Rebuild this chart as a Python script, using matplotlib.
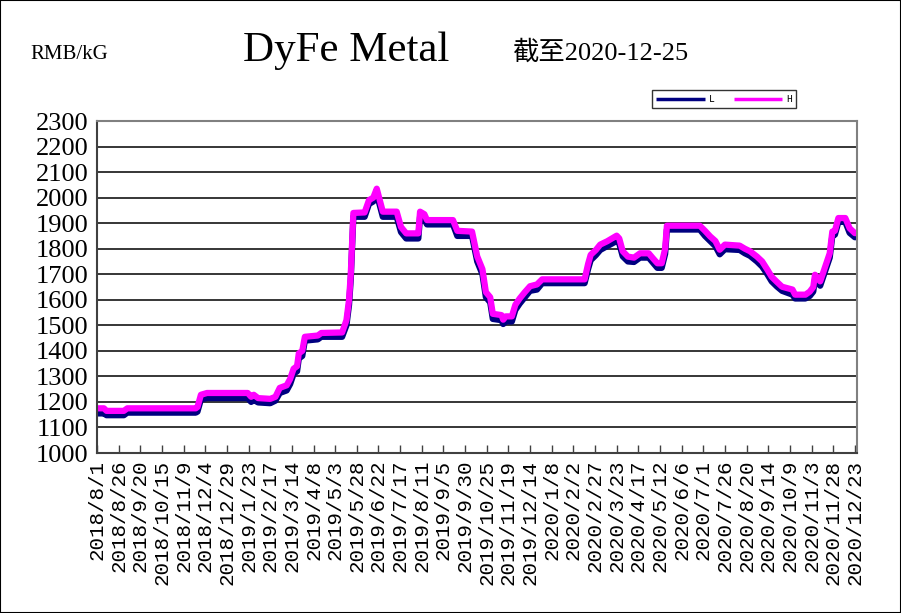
import matplotlib
matplotlib.use('Agg')
import matplotlib.pyplot as plt
import pandas as pd
from matplotlib.patches import Rectangle

# price change points (RMB/kG)
dates = ['2018-08-01', '2018-08-09', '2018-08-12', '2018-09-01', '2018-09-05', '2018-11-23',
         '2018-11-25', '2018-11-29', '2018-12-06', '2019-01-22', '2019-01-26', '2019-01-29',
         '2019-02-03', '2019-02-17', '2019-02-23', '2019-02-28', '2019-03-08', '2019-03-12',
         '2019-03-16', '2019-03-20', '2019-03-22', '2019-03-26', '2019-03-29', '2019-04-13',
         '2019-04-17', '2019-05-11', '2019-05-16', '2019-05-19', '2019-05-21', '2019-05-24',
         '2019-06-06', '2019-06-11', '2019-06-16', '2019-06-20', '2019-06-27', '2019-07-13',
         '2019-07-18', '2019-07-24', '2019-08-07', '2019-08-09', '2019-08-14', '2019-08-17',
         '2019-09-16', '2019-09-21', '2019-10-08', '2019-10-14', '2019-10-20', '2019-10-24',
         '2019-10-29', '2019-11-01', '2019-11-11', '2019-11-13', '2019-11-16', '2019-11-23',
         '2019-11-27', '2019-12-02', '2019-12-08', '2019-12-14', '2019-12-22', '2019-12-28',
         '2020-02-15', '2020-02-19', '2020-02-22', '2020-02-28', '2020-03-04', '2020-03-12',
         '2020-03-23', '2020-03-26', '2020-03-30', '2020-04-05', '2020-04-12', '2020-04-19',
         '2020-04-29', '2020-05-04', '2020-05-09', '2020-05-14', '2020-05-18', '2020-05-20',
         '2020-06-27', '2020-07-03', '2020-07-09', '2020-07-15', '2020-07-20', '2020-07-26',
         '2020-08-12', '2020-08-18', '2020-08-24', '2020-09-01', '2020-09-07', '2020-09-13',
         '2020-09-18', '2020-09-24', '2020-09-30', '2020-10-12', '2020-10-15', '2020-10-27',
         '2020-11-01', '2020-11-05', '2020-11-07', '2020-11-13', '2020-11-19', '2020-11-24',
         '2020-11-27', '2020-11-30', '2020-12-04', '2020-12-12', '2020-12-17', '2020-12-23',
         '2020-12-25']

price_h = [1175, 1175, 1165, 1165, 1175, 1175,
           1180, 1228, 1235, 1235, 1220, 1228,
           1215, 1212, 1220, 1255, 1265, 1290,
           1330, 1340, 1390, 1400, 1455, 1460,
           1470, 1472, 1520, 1600, 1700, 1940,
           1942, 1990, 2000, 2035, 1945, 1945,
           1885, 1860, 1860, 1945, 1935, 1912,
           1912, 1870, 1867, 1770, 1720, 1630,
           1610, 1545, 1540, 1522, 1535, 1535,
           1580, 1605, 1630, 1653, 1660, 1680,
           1680, 1740, 1776, 1795, 1816, 1829,
           1851, 1840, 1790, 1769, 1765, 1782,
           1782, 1762, 1743, 1743, 1800, 1890,
           1890, 1870, 1848, 1830, 1796, 1816,
           1812, 1800, 1790, 1769, 1750, 1718,
           1690, 1670, 1651, 1640, 1620, 1620,
           1632, 1650, 1698, 1672, 1732, 1782,
           1867, 1870, 1920, 1920, 1880, 1861,
           1861]

price_l = [1155, 1155, 1148, 1148, 1158, 1158,
           1162, 1210, 1215, 1215, 1200, 1208,
           1198, 1195, 1205, 1235, 1245, 1270,
           1310, 1320, 1370, 1380, 1440, 1445,
           1455, 1455, 1500, 1580, 1680, 1925,
           1925, 1975, 1985, 2015, 1925, 1925,
           1865, 1840, 1840, 1925, 1915, 1895,
           1895, 1850, 1850, 1750, 1700, 1610,
           1590, 1525, 1520, 1505, 1515, 1515,
           1560, 1585, 1610, 1635, 1640, 1665,
           1665, 1720, 1755, 1775, 1795, 1810,
           1830, 1820, 1770, 1750, 1748, 1765,
           1765, 1745, 1725, 1725, 1780, 1875,
           1875, 1850, 1830, 1810, 1778, 1798,
           1795, 1782, 1772, 1750, 1730, 1700,
           1672, 1652, 1635, 1620, 1605, 1605,
           1615, 1632, 1680, 1655, 1715, 1765,
           1850, 1855, 1905, 1905, 1862, 1845,
           1845]

tick_labels = ['2018/8/1', '2018/8/26', '2018/9/20', '2018/10/15', '2018/11/9', '2018/12/4',
               '2018/12/29', '2019/1/23', '2019/2/17', '2019/3/14', '2019/4/8', '2019/5/3',
               '2019/5/28', '2019/6/22', '2019/7/17', '2019/8/11', '2019/9/5', '2019/9/30',
               '2019/10/25', '2019/11/19', '2019/12/14', '2020/1/8', '2020/2/2', '2020/2/27',
               '2020/3/23', '2020/4/17', '2020/5/12', '2020/6/6', '2020/7/1', '2020/7/26',
               '2020/8/20', '2020/9/14', '2020/10/9', '2020/11/3', '2020/11/28', '2020/12/23']

serif = ['Liberation Serif', 'DejaVu Serif']
mono = ['Liberation Mono', 'DejaVu Sans Mono']
cjk = ['Liberation Serif', 'Noto Sans CJK SC']

x = pd.to_datetime(dates)
ticks = pd.to_datetime(tick_labels, format='%Y/%m/%d')

fig = plt.figure(figsize=(9.01, 6.13), dpi=100)
ax = fig.add_axes([97 / 901, 1 - 453 / 613, (857 - 97) / 901, (453 - 121) / 613])

ax.plot(x, price_l, color='#000080', lw=4.5, label='L', solid_joinstyle='round', solid_capstyle='butt')
ax.plot(x, price_h, color='#FF00FF', lw=4.5, label='H', solid_joinstyle='round', solid_capstyle='butt')

ax.set_ylim(1000, 2300)
ax.set_yticks(range(1000, 2301, 100))
ax.set_xlim(pd.Timestamp('2018-08-01'), pd.Timestamp('2020-12-25 12:00'))
ax.set_xticks(ticks)
ax.set_xticklabels(tick_labels, rotation=90, family=mono, fontsize=15)
for lab in ax.get_yticklabels():
    lab.set_family(serif)
    lab.set_fontsize(19)

ax.grid(axis='y', color='black', lw=1.1)
ax.set_axisbelow(True)
ax.tick_params(axis='x', direction='in', length=6, width=1, color='#404040', pad=5)
ax.tick_params(axis='y', direction='in', length=0, pad=6)
for side in ['top', 'right']:
    ax.spines[side].set_color('#808080')
    ax.spines[side].set_linewidth(1.5)
for side in ['left', 'bottom']:
    ax.spines[side].set_color('#404040')
    ax.spines[side].set_linewidth(1.5)

leg = ax.legend(loc='center', bbox_to_anchor=(724 / 901, 1 - 99 / 613), bbox_transform=fig.transFigure,
                ncol=2, frameon=True, fancybox=False, handlelength=5, handletextpad=0.4,
                columnspacing=2.0, borderpad=0.4, prop={'family': 'Liberation Mono', 'size': 7})
leg.get_frame().set_edgecolor('black')
leg.get_frame().set_linewidth(1.0)
for line in leg.get_lines():
    line.set_linewidth(2.5)

fig.text(30 / 901, 1 - 59 / 613, 'RMB/kG', family=serif, fontsize=15, ha='left', va='baseline')
fig.text(243 / 901, 1 - 61 / 613, 'DyFe Metal', family=serif, fontsize=31, ha='left', va='baseline')
fig.text(512 / 901, 1 - 60 / 613, '截至2020-12-25', family=cjk, fontsize=19, ha='left', va='baseline')

fig.patches.append(Rectangle((0, 0), 1, 1, transform=fig.transFigure, fill=False,
                             edgecolor='black', lw=1.5))

fig.savefig('out.png', dpi=100)
